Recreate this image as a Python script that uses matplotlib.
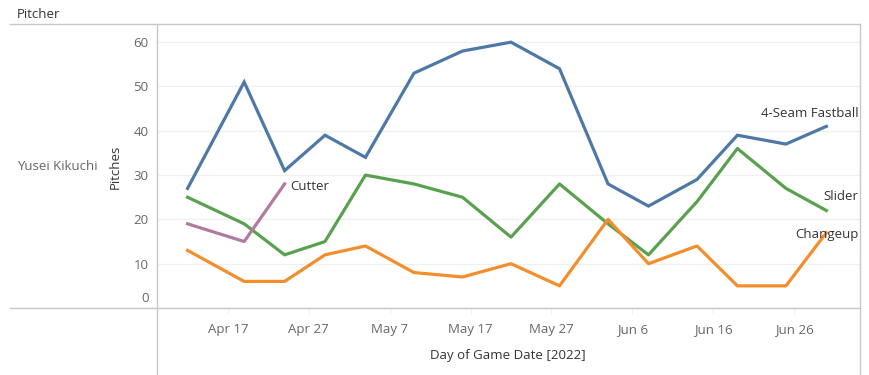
import numpy as np
import matplotlib
matplotlib.use('Agg')
from matplotlib import pyplot as plt
from matplotlib import dates as mdates
from matplotlib.lines import Line2D
from matplotlib.transforms import ScaledTranslation
import datetime as dt

# game dates (Yusei Kikuchi starts, 2022)
game_dates = ['2022-04-12', '2022-04-19', '2022-04-24', '2022-04-29', '2022-05-04',
              '2022-05-10', '2022-05-16', '2022-05-22', '2022-05-28', '2022-06-03',
              '2022-06-08', '2022-06-14', '2022-06-19', '2022-06-25', '2022-06-30']
fastball = [27, 51, 31, 39, 34, 53, 58, 60, 54, 28, 23, 29, 39, 37, 41]
slider = [25, 19, 12, 15, 30, 28, 25, 16, 28, 19, 12, 24, 36, 27, 22]
changeup = [13, 6, 6, 12, 14, 8, 7, 10, 5, 20, 10, 14, 5, 5, 17]
cutter = [19, 15, 28]

tick_dates = ['2022-04-17', '2022-04-27', '2022-05-07', '2022-05-17', '2022-05-27',
              '2022-06-06', '2022-06-16', '2022-06-26']
tick_labels = ['Apr 17', 'Apr 27', 'May 7', 'May 17', 'May 27', 'Jun 6', 'Jun 16', 'Jun 26']
y_ticks = [0, 10, 20, 30, 40, 50, 60]

dates = [dt.datetime.strptime(d, '%Y-%m-%d') for d in game_dates]
tdates = [dt.datetime.strptime(d, '%Y-%m-%d') for d in tick_dates]

plt.rcParams['font.family'] = ['Open Sans', 'DejaVu Sans']

W, H = 869, 375
fig = plt.figure(figsize=(W / 100, H / 100), dpi=100)

def fx(px):
    return px / W

def fy(py):
    return 1 - py / H

L, R, T, B = 157, 860, 24, 308
ax = fig.add_axes([fx(L), fy(B), fx(R) - fx(L), fy(T) - fy(B)])

c_blue = '#4e79a7'
c_green = '#59a14f'
c_orange = '#f28e2b'
c_pink = '#b07aa1'
lw = 2.3

ax.plot(dates, fastball, color=c_blue, lw=lw, solid_joinstyle='miter')
ax.plot(dates, slider, color=c_green, lw=lw)
ax.plot(dates, changeup, color=c_orange, lw=lw)
ax.plot(dates[:3], cutter, color=c_pink, lw=lw)

ax.set_xlim(mdates.date2num(dt.datetime(2022, 4, 17)) - 8.78,
            mdates.date2num(dt.datetime(2022, 4, 17)) + 78.16)
ax.set_ylim(0, 64.1)

ax.set_yticks(y_ticks)
ax.set_yticklabels([str(v) for v in y_ticks])
ax.set_xticks(tdates)
ax.set_xticklabels(tick_labels)
ax.tick_params(axis='y', length=0, pad=6, labelsize=9.5, labelcolor='#666666')
ax.tick_params(axis='x', length=4, color='#eeeeee', pad=7, labelsize=9.5, labelcolor='#666666')
lab0 = ax.get_yticklabels()[0]
lab0.set_transform(lab0.get_transform() + ScaledTranslation(0, 0.11, fig.dpi_scale_trans))

ax.grid(axis='y', color='#f0f0f0', lw=1)
ax.set_axisbelow(True)
for s in ax.spines.values():
    s.set_visible(False)

txt_kw = dict(fontsize=9.5, color='#333333')
ax.annotate('Cutter', (dates[2], cutter[2]), xytext=(4, -2), textcoords='offset points',
            ha='left', va='center', **txt_kw)
ax.annotate('4-Seam Fastball', (dates[-1], fastball[-1]), xytext=(23, 9), textcoords='offset points',
            ha='right', va='center', **txt_kw)
ax.annotate('Slider', (dates[-1], slider[-1]), xytext=(23, 10), textcoords='offset points',
            ha='right', va='center', **txt_kw)
ax.annotate('Changeup', (dates[-1], changeup[-1]), xytext=(23, -1), textcoords='offset points',
            ha='right', va='center', **txt_kw)

# frame lines of the table layout
line_c = '#c8c8c8'
fig.add_artist(Line2D([fx(10), fx(R)], [fy(T), fy(T)], color=line_c, lw=1))
fig.add_artist(Line2D([fx(10), fx(R)], [fy(B), fy(B)], color=line_c, lw=1))
fig.add_artist(Line2D([fx(L), fx(L)], [fy(T), fy(375)], color=line_c, lw=1))
fig.add_artist(Line2D([fx(R), fx(R)], [fy(T), fy(375)], color=line_c, lw=1))

fig.text(fx(17), fy(15), 'Pitcher', fontsize=9.5, color='#333333', ha='left', va='center')
fig.text(fx(17), fy(167), 'Yusei Kikuchi', fontsize=9.5, color='#666666', ha='left', va='center')
fig.text(fx(115), fy(167), 'Pitches', fontsize=9.5, color='#333333', ha='center', va='center',
         rotation=90)
fig.text(fx(508), fy(355), 'Day of Game Date [2022]', fontsize=9.5, color='#333333',
         ha='center', va='center')

fig.savefig('out.png', dpi=100, facecolor='white')
plt.close()
